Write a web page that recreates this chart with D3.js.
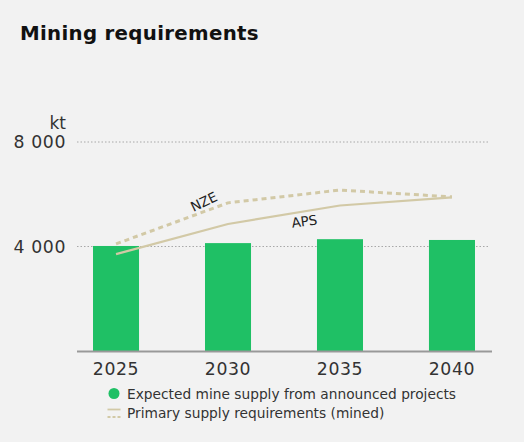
<!DOCTYPE html>
<html><head><meta charset="utf-8">
<script src="https://cdn.jsdelivr.net/npm/d3@7"></script>
<style>
html,body{margin:0;padding:0;background:#f2f2f2;}
svg{display:block;}
</style></head>
<body>
<svg id="c" width="524" height="442"></svg>
<script>
const years = ["2025","2030","2035","2040"];
const mineSupply = [4020, 4130, 4280, 4250];
const apsReq = [3710, 4860, 5570, 5880];
const nzeReq = [4100, 5670, 6160, 5900];
const yTicks = [4000, 8000];
const title = "Mining requirements";
const unit = "kt";
const legendLabels = ["Expected mine supply from announced projects", "Primary supply requirements (mined)"];

const svg = d3.select("#c");
const font = "'DejaVu Sans', sans-serif";
const lineCol = "#d2c9a6";
const green = "#1fc065";

svg.append("rect").attr("width",524).attr("height",442).attr("fill","#f2f2f2");

svg.append("text").attr("x",20).attr("y",39.5).text(title)
  .attr("font-family",font).attr("font-weight",700).attr("font-size",19.8).attr("letter-spacing",0.3).attr("fill","#111");

const x0 = 77, x1 = 491;
const x = d3.scaleBand().domain(years).range([x0, x1]).paddingInner(0.589).paddingOuter(0.143);
const y = d3.scaleLinear().domain([0, 8000]).range([351, 142]);

// grid
const g = svg.append("g");
g.selectAll("line.grid").data(yTicks).join("line")
  .attr("x1",x0).attr("x2",490).attr("y1",d=>y(d)).attr("y2",d=>y(d))
  .attr("stroke","#a8a8a8").attr("stroke-width",1).attr("stroke-dasharray","1.5,2");

g.selectAll("text.yt").data(yTicks).join("text")
  .attr("x",66).attr("y",d=>y(d)+6.3).attr("text-anchor","end")
  .attr("font-family",font).attr("font-size",17.3).attr("letter-spacing",0.6).attr("fill","#333")
  .text(d=>d3.format(",")(d).replace(",", " "));
svg.append("text").attr("x",66).attr("y",128.5).attr("text-anchor","end")
  .attr("font-family",font).attr("font-size",17).attr("fill","#333").text(unit);

// bars
svg.selectAll("rect.bar").data(years).join("rect")
  .attr("x",d=>x(d)).attr("width",x.bandwidth())
  .attr("y",(d,i)=>y(mineSupply[i])).attr("height",(d,i)=>y(0)-y(mineSupply[i]))
  .attr("fill",green);

// baseline
svg.append("line").attr("x1",x0).attr("x2",492).attr("y1",351.5).attr("y2",351.5)
  .attr("stroke","#999").attr("stroke-width",2);

// x labels
svg.selectAll("text.xl").data(years).join("text")
  .attr("x",d=>x(d)+x.bandwidth()/2).attr("y",374.5).attr("text-anchor","middle")
  .attr("font-family",font).attr("font-size",17.3).attr("letter-spacing",0.6).attr("fill","#333").text(d=>d);

const cx = (d,i)=>x(years[i])+x.bandwidth()/2;
const line = d3.line().x((d,i)=>cx(d,i)).y(d=>y(d)).curve(d3.curveLinear);
svg.append("path").attr("d",line(nzeReq)).attr("fill","none")
  .attr("stroke",lineCol).attr("stroke-width",3).attr("stroke-dasharray","5,4").attr("stroke-linejoin","round");
svg.append("path").attr("d",line(apsReq)).attr("fill","none")
  .attr("stroke",lineCol).attr("stroke-width",2.2).attr("stroke-linejoin","round");

svg.append("text").attr("transform","translate(206,206) rotate(-26)").attr("text-anchor","middle")
  .attr("font-family",font).attr("font-size",13.5).attr("fill","#222").text("NZE");
svg.append("text").attr("transform","translate(305,226) rotate(-8)").attr("text-anchor","middle")
  .attr("font-family",font).attr("font-size",13.5).attr("fill","#222").text("APS");

// legend
svg.append("circle").attr("cx",114).attr("cy",393.5).attr("r",5.5).attr("fill",green);
svg.append("line").attr("x1",107.5).attr("x2",120.5).attr("y1",409.5).attr("y2",409.5).attr("stroke",lineCol).attr("stroke-width",1.8);
svg.append("line").attr("x1",107.5).attr("x2",120.5).attr("y1",417).attr("y2",417).attr("stroke",lineCol).attr("stroke-width",1.8).attr("stroke-dasharray","3,2");
svg.selectAll("text.lg").data(legendLabels).join("text")
  .attr("x",127).attr("y",(d,i)=>399+i*19.3)
  .attr("font-family",font).attr("font-size",13.75).attr("fill","#333").text(d=>d);
</script>
</body></html>
